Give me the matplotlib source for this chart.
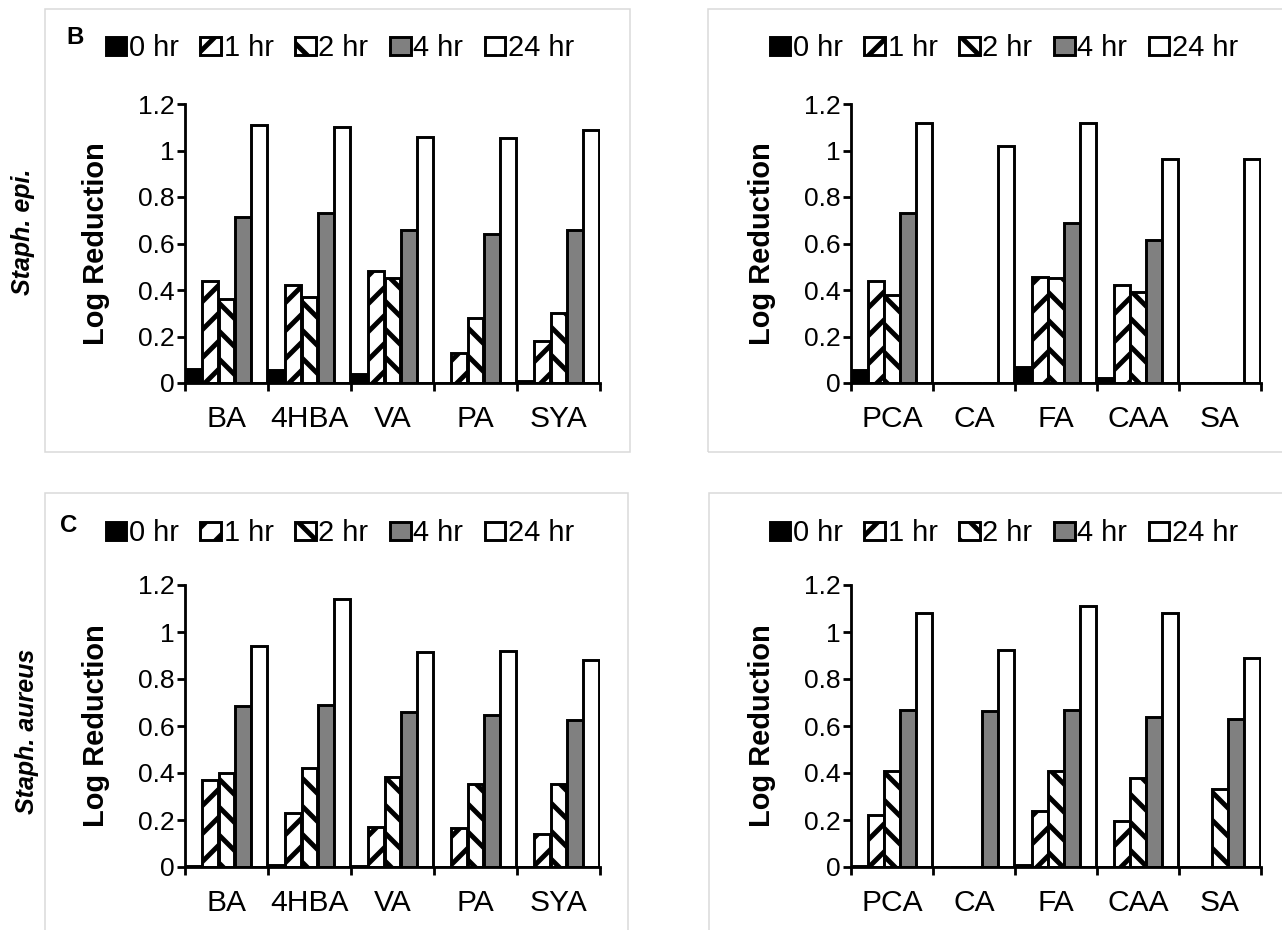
import numpy as np
import matplotlib
matplotlib.use('Agg')
import matplotlib.pyplot as plt
from matplotlib.patches import Rectangle

# ---- data ----
times = ['0 hr', '1 hr', '2 hr', '4 hr', '24 hr']
cats_left = ['BA', '4HBA', 'VA', 'PA', 'SYA']
cats_right = ['PCA', 'CA', 'FA', 'CAA', 'SA']

# Staph. epi. (panel B)
epi_left = [
    [0.06, 0.055, 0.04, 0.0, 0.01],
    [0.44, 0.42, 0.48, 0.13, 0.18],
    [0.36, 0.37, 0.45, 0.28, 0.30],
    [0.715, 0.73, 0.66, 0.64, 0.66],
    [1.11, 1.10, 1.06, 1.055, 1.09],
]
epi_right = [
    [0.055, 0.0, 0.07, 0.02, 0.0],
    [0.44, 0.0, 0.455, 0.42, 0.0],
    [0.38, 0.0, 0.45, 0.39, 0.0],
    [0.73, 0.0, 0.69, 0.615, 0.0],
    [1.12, 1.02, 1.12, 0.965, 0.965],
]
# Staph. aureus (panel C)
aur_left = [
    [0.005, 0.01, 0.003, 0.0, 0.0],
    [0.37, 0.23, 0.17, 0.165, 0.14],
    [0.40, 0.42, 0.385, 0.355, 0.355],
    [0.685, 0.69, 0.66, 0.645, 0.625],
    [0.94, 1.14, 0.915, 0.92, 0.88],
]
aur_right = [
    [0.003, 0.0, 0.01, 0.0, 0.0],
    [0.22, 0.0, 0.24, 0.195, 0.0],
    [0.41, 0.0, 0.41, 0.38, 0.33],
    [0.67, 0.665, 0.67, 0.64, 0.63],
    [1.08, 0.925, 1.11, 1.08, 0.89],
]

# ---- style ----
DPI = 84
W, H = 1282, 930
def pt(px):
    return px * 72.0 / DPI

plt.rcParams['font.family'] = ['Liberation Sans', 'DejaVu Sans']
plt.rcParams['hatch.linewidth'] = 4.2
plt.rcParams['hatch.color'] = 'black'

faces = ['black', 'white', 'white', '#808080', 'white']
hatches = [None, '/', '\\', None, None]

fig = plt.figure(figsize=(W / DPI, H / DPI), dpi=DPI)

def box(x0, y0, x1, y1):
    fig.patches.append(Rectangle((x0 / W, 1 - y1 / H), (x1 - x0) / W, (y1 - y0) / H,
                                 transform=fig.transFigure, fill=False,
                                 edgecolor='#d9d9d9', linewidth=1.3, zorder=0))

box(45, 9, 630, 452)
box(708, 9, 1300, 452)
box(45, 493, 628, 950)
box(709, 493, 1300, 950)

def panel(x0, x1, ytop, y0, cats, vals, legend_xy, ylab_x):
    ax = fig.add_axes([x0 / W, 1 - y0 / H, (x1 - x0) / W, (y0 - ytop) / H])
    x = np.arange(len(cats))
    w = 0.19
    bars = []
    for k in range(len(times)):
        b = ax.bar(x + (k - 2) * 0.195, vals[k], w, color=faces[k], edgecolor='black',
                   linewidth=2.5, hatch=hatches[k], label=times[k])
        bars.append(b)
    ax.set_xlim(-0.5, len(cats) - 0.5)
    ax.set_ylim(0, 1.2)
    ax.set_yticks([0, 0.2, 0.4, 0.6, 0.8, 1.0, 1.2])
    ax.set_yticklabels(['0', '0.2', '0.4', '0.6', '0.8', '1', '1.2'])
    ax.set_xticks(x)
    ax.set_xticklabels(cats)
    ax.set_xticks(np.arange(len(cats) + 1) - 0.5, minor=True)
    for s in ['top', 'right']:
        ax.spines[s].set_visible(False)
    for s in ['left', 'bottom']:
        ax.spines[s].set_linewidth(2.4)
        ax.spines[s].set_zorder(5)
    ax.tick_params(axis='y', direction='out', length=pt(8), width=2.4,
                   labelsize=pt(26.5), pad=pt(2))
    ax.tick_params(axis='x', which='major', length=0, labelsize=pt(30), pad=pt(22))
    ax.tick_params(axis='x', which='minor', direction='out', length=pt(8), width=2.4)
    ax.patch.set_alpha(0)
    fig.text(ylab_x / W, 1 - (ytop + y0) / 2.0 / H, 'Log Reduction', rotation=90,
             ha='center', va='center', fontsize=pt(29), fontweight='bold')
    fig.legend(handles=bars, labels=times, loc='center',
               bbox_to_anchor=(legend_xy[0] / W, 1 - legend_xy[1] / H),
               ncol=5, frameon=False, fontsize=pt(29), handlelength=0.7,
               handleheight=0.6, handletextpad=0.1, columnspacing=0.75,
               borderpad=0, borderaxespad=0)
    return ax

panel(185, 600, 104, 383, cats_left, epi_left, (340, 48), 96)
panel(851, 1261, 104, 383, cats_right, epi_right, (1004, 48), 762)
panel(185, 600, 585, 867, cats_left, aur_left, (340, 533), 96)
panel(851, 1261, 585, 867, cats_right, aur_right, (1004, 533), 762)

fig.text(75 / W, 1 - 38 / H, 'B', ha='center', va='center', fontsize=pt(24), fontweight='bold')
fig.text(69 / W, 1 - 526 / H, 'C', ha='center', va='center', fontsize=pt(24), fontweight='bold')
fig.text(23 / W, 1 - 232 / H, 'Staph. epi.', rotation=90, ha='center', va='center',
         fontsize=pt(25), fontweight='bold', fontstyle='italic')
fig.text(27 / W, 1 - 731 / H, 'Staph. aureus', rotation=90, ha='center', va='center',
         fontsize=pt(25), fontweight='bold', fontstyle='italic')

fig.savefig('out.png', dpi=DPI, facecolor='white')
